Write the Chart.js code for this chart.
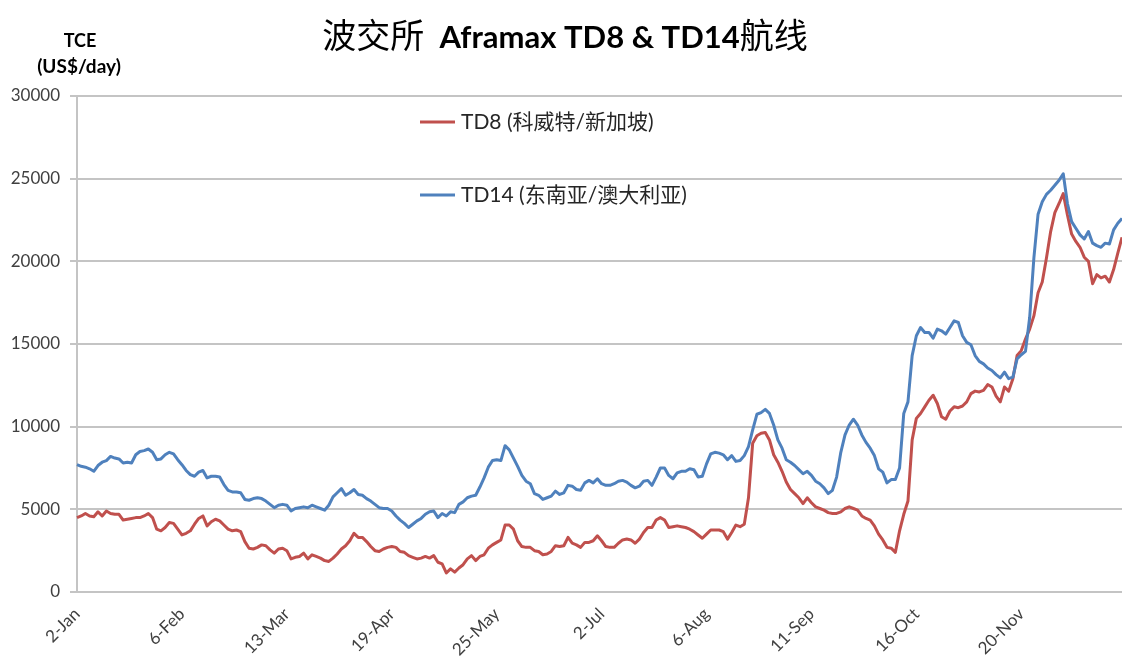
<!DOCTYPE html>
<html><head><meta charset="utf-8">
<script src="https://cdn.jsdelivr.net/npm/chart.js@4"></script>
<style>html,body{margin:0;padding:0;background:#fff;}canvas{display:block}</style>
</head><body>
<canvas id="c" width="1122" height="661"></canvas>
<script>
// ---- data ----
const tickLabels = ['2-Jan','6-Feb','13-Mar','19-Apr','25-May','2-Jul','6-Aug','11-Sep','16-Oct','20-Nov'];
const labelStep = 25; // one tick label every 25 trading days
const seriesNames = ['TD8 (科威特/新加坡)', 'TD14 (东南亚/澳大利亚)'];
const td8 = [
4500,4600,4750,4600,4550,4850,4600,4900,4750,4700,
4700,4350,4400,4450,4500,4500,4600,4750,4500,3800,
3700,3900,4200,4150,3800,3450,3550,3700,4100,4450,
4600,4000,4250,4400,4300,4050,3800,3700,3750,3650,
3050,2650,2600,2700,2850,2800,2550,2350,2600,2650,
2500,2000,2100,2150,2350,2000,2250,2150,2050,1900,
1850,2050,2300,2600,2800,3100,3550,3300,3300,3050,
2750,2500,2450,2600,2700,2750,2700,2450,2400,2200,
2100,2000,2050,2150,2050,2200,1800,1700,1150,1400,
1200,1450,1650,2000,2200,1900,2150,2250,2650,2850,
3000,3150,4050,4050,3800,3100,2750,2700,2700,2500,
2450,2250,2300,2450,2800,2750,2800,3300,2950,2850,
2700,3000,3000,3100,3400,3100,2750,2700,2700,2950,
3150,3200,3150,2950,3200,3600,3900,3900,4350,4500,
4350,3900,3950,4000,3950,3900,3800,3650,3450,3250,
3500,3750,3750,3750,3650,3200,3600,4050,3950,4100,
5700,9000,9450,9600,9650,9200,8300,7850,7300,6650,
6200,5950,5700,5350,5700,5400,5150,5050,4950,4800,
4750,4750,4850,5050,5150,5050,4950,4600,4450,4350,
4000,3500,3150,2700,2650,2400,3700,4700,5500,9200,
10500,10800,11200,11600,11900,11400,10600,10450,10950,11200,
11150,11250,11500,12000,12150,12100,12200,12550,12400,11850,
11500,12400,12150,12900,14300,14600,15300,15900,16700,18100,
18750,20200,21800,22950,23500,24100,22800,21650,21200,20850,
20250,20000,18650,19200,19000,19100,18750,19500,20500,21450
];
const td14 = [
7700,7600,7550,7450,7300,7650,7850,7950,8200,8100,
8050,7800,7850,7800,8300,8500,8550,8650,8450,8000,
8050,8300,8450,8350,8000,7700,7350,7100,7000,7250,
7350,6900,7000,7000,6950,6500,6150,6050,6050,6000,
5600,5550,5650,5700,5650,5500,5300,5100,5250,5300,
5250,4900,5050,5100,5150,5100,5250,5150,5050,4950,
5250,5750,6000,6250,5850,6000,6200,5900,5850,5650,
5500,5300,5100,5050,5050,4900,4600,4350,4150,3900,
4100,4300,4450,4700,4850,4900,4500,4750,4600,4850,
4800,5300,5450,5700,5800,5850,6350,6900,7550,7950,
8000,7950,8850,8600,8100,7600,7050,6700,6550,5950,
5850,5600,5700,5800,6100,5900,6000,6450,6400,6200,
6150,6600,6750,6600,6850,6550,6450,6450,6550,6700,
6750,6650,6450,6300,6400,6700,6750,6450,6950,7500,
7500,7050,6850,7200,7300,7300,7450,7400,6950,7000,
7750,8350,8450,8400,8300,8000,8250,7900,7950,8250,
8800,9800,10750,10850,11050,10800,10100,9200,8700,8000,
7850,7650,7400,7150,7300,7050,6700,6550,6300,5950,
6150,6950,8450,9500,10100,10450,10100,9500,9050,8700,
8250,7450,7250,6600,6800,6800,7500,10800,11500,14300,
15500,16000,15700,15700,15350,15900,15800,15600,16000,16400,
16300,15500,15100,14950,14300,13950,13800,13550,13400,13150,
12950,13300,12900,13000,14100,14350,14550,16600,20200,22850,
23600,24050,24300,24600,24900,25300,23500,22400,22000,21600,
21350,21800,21100,20950,20850,21100,21050,21900,22300,22600
];
const yMin = 0, yMax = 30000, yStep = 5000;

// ---- styles ----
const RED = '#C0504D', BLUE = '#4F81BD', GRID = '#c4c4c4', TXT = '#404040';
const categories = td8.map((_, i) => (i % labelStep === 0 && tickLabels[i / labelStep]) ? tickLabels[i / labelStep] : '');

const decor = {
  id: 'decor',
  afterDraw(chart) {
    const ctx = chart.ctx;
    ctx.save();
    // title
    const parts = [
      {t: '波交所  ', f: '34px "Noto Sans CJK SC"'},
      {t: 'Aframax TD8 & TD14', f: 'bold 31px Lato'},
      {t: '航线', f: '34px "Noto Sans CJK SC"'}
    ];
    let total = 0;
    parts.forEach(p => { ctx.font = p.f; p.w = ctx.measureText(p.t).width; total += p.w; });
    let x = 565 - total / 2;
    ctx.fillStyle = '#000';
    ctx.textBaseline = 'alphabetic';
    ctx.textAlign = 'left';
    parts.forEach(p => { ctx.font = p.f; ctx.fillText(p.t, x, 48); x += p.w; });
    // y-axis title
    ctx.fillStyle = '#000';
    ctx.textAlign = 'center';
    ctx.textBaseline = 'middle';
    ctx.font = 'bold 18px Lato';
    ctx.fillText('TCE', 80, 41);
    ctx.font = 'bold 19px Lato';
    ctx.fillText('(US$/day)', 79, 67);
    // legend
    const ds = chart.data.datasets;
    const ly = [122, 195];
    ds.forEach((d, k) => {
      ctx.strokeStyle = d.borderColor;
      ctx.lineWidth = 3;
      ctx.beginPath(); ctx.moveTo(420, ly[k]); ctx.lineTo(455, ly[k]); ctx.stroke();
      ctx.fillStyle = '#262626';
      ctx.textAlign = 'left';
      ctx.font = '21px Lato, "Noto Sans CJK SC"';
      ctx.fillText(d.label, 461, ly[k]);
    });
    ctx.restore();
  }
};

new Chart(document.getElementById('c'), {
  type: 'line',
  data: {
    labels: categories,
    datasets: [
      {label: seriesNames[0], data: td8, borderColor: RED, backgroundColor: RED, borderWidth: 3, pointRadius: 0, tension: 0, order: 1, borderJoinStyle: 'round'},
      {label: seriesNames[1], data: td14, borderColor: BLUE, backgroundColor: BLUE, borderWidth: 3, pointRadius: 0, tension: 0, order: 0, borderJoinStyle: 'round'}
    ]
  },
  options: {
    responsive: false,
    animation: false,
    devicePixelRatio: 1,
    layout: {padding: {top: 96, right: 0, bottom: 0, left: 0}, autoPadding: false},
    plugins: {legend: {display: false}, title: {display: false}, tooltip: {enabled: false}},
    scales: {
      x: {
        offset: false,
        grid: {display: false},
        border: {display: true, color: GRID, width: 2},
        ticks: {autoSkip: false, minRotation: 45, maxRotation: 45, padding: 4,
                color: TXT, font: {family: 'Lato', size: 17}},
        afterFit: s => { s.height = 69; s.paddingLeft = 0; s.paddingRight = 0; }
      },
      y: {
        min: yMin, max: yMax,
        grid: {color: GRID, lineWidth: 2, tickLength: 7, drawTicks: true},
        border: {display: true, color: GRID, width: 2},
        ticks: {stepSize: yStep, padding: 10, color: TXT, font: {family: 'Lato', size: 17},
                callback: v => String(v)},
        afterFit: s => { s.width = 77; s.paddingTop = 0; s.paddingBottom = 0; }
      }
    }
  },
  plugins: [decor]
});
</script>
</body></html>
